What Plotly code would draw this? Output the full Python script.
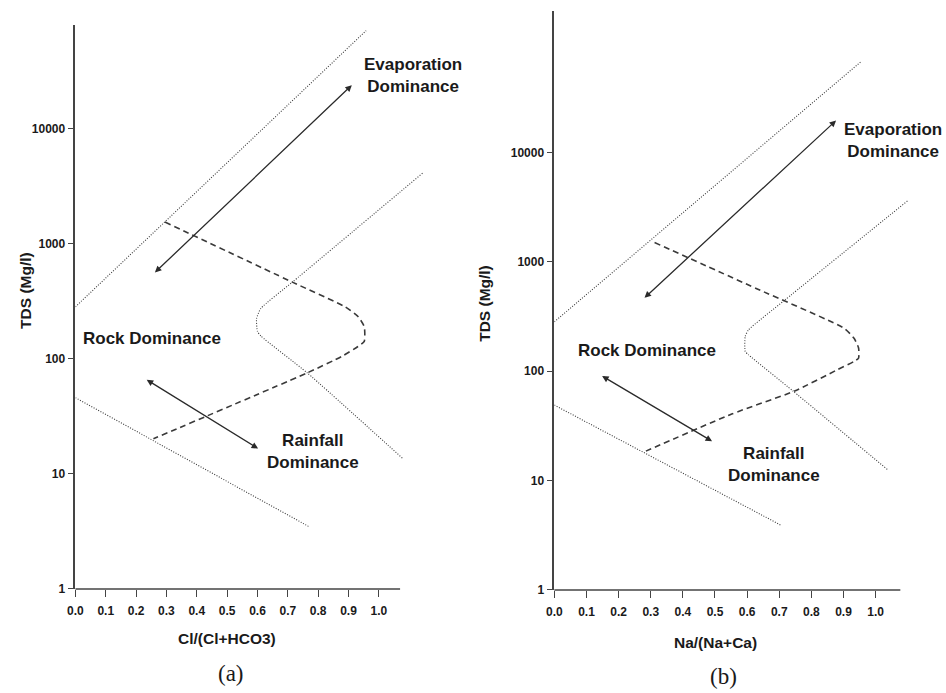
import numpy as np
import plotly.graph_objects as go

# ---------------- data ----------------
# Panel (a): Cl/(Cl+HCO3) vs TDS
a_upper_x = [0.0, 0.958]
a_upper_y = [283, 71100]
a_inner_x = [1.144, 0.715, 0.611, 0.597, 0.600, 0.611, 0.764, 1.079]
a_inner_y = [4100, 464, 274, 224, 173, 158, 75.5, 13.6]
a_lower_x = [0.0, 0.768]
a_lower_y = [46, 3.5]
a_dash_x = [0.295, 0.715, 0.889, 0.932, 0.952, 0.952, 0.931, 0.878, 0.764, 0.257]
a_dash_y = [1545, 464, 283, 232, 190, 142, 128, 105, 75.5, 20.2]
a_evap_arrow = [(0.257, 547), (0.911, 23900)]
a_rain_arrow = [(0.23, 67), (0.602, 16.6)]

# Panel (b): Na/(Na+Ca) vs TDS
b_upper_x = [0.0, 0.953]
b_upper_y = [283, 67000]
b_inner_x = [1.099, 0.717, 0.604, 0.594, 0.594, 0.604, 0.743, 1.040]
b_inner_y = [3600, 446, 238, 207.5, 151.7, 141.6, 65.9, 12.4]
b_lower_x = [0.0, 0.706]
b_lower_y = [49, 3.9]
b_dash_x = [0.312, 0.630, 0.902, 0.933, 0.947, 0.947, 0.933, 0.882, 0.748, 0.552, 0.285]
b_dash_y = [1500, 568, 247, 200, 163, 132, 123, 103.5, 65.9, 40.6, 18.6]
b_evap_arrow = [(0.276, 455), (0.877, 19600)]
b_rain_arrow = [(0.144, 92), (0.491, 22.9)]

x_ticks = [0.0, 0.1, 0.2, 0.3, 0.4, 0.5, 0.6, 0.7, 0.8, 0.9, 1.0]
x_tick_labels = ["0.0", "0.1", "0.2", "0.3", "0.4", "0.5", "0.6", "0.7", "0.8", "0.9", "1.0"]
y_ticks = [1, 10, 100, 1000, 10000]
y_tick_labels = ["1", "10", "100", "1000", "10000"]

x_title_a = "Cl/(Cl+HCO3)"
x_title_b = "Na/(Na+Ca)"
y_title = "TDS (Mg/l)"

# ---------------- layout geometry ----------------
W, H = 946, 693
def px(x):
    return x / W
def py(y):
    return 1 - y / H

LINE = "#3a3a3a"
TXT = "#1a1a1a"
SANS = "Liberation Sans"

# panel geometry: origin pixel, pixels per x unit, pixels per decade, ranges
pa = dict(x0=68, ppu=306, y0=595, ppd=116.25, xr=[0, 1.16], yr=[0, 4.9], xend=1.07)
pb = dict(x0=551, ppu=324, y0=596, ppd=110.5, xr=[0, 1.12], yr=[0, 5.29], xend=1.077)

def domains(p):
    xd = [px(p["x0"]), px(p["x0"] + p["ppu"] * p["xr"][1])]
    yd = [py(p["y0"]), py(p["y0"] - p["ppd"] * p["yr"][1])]
    return xd, yd

fig = go.Figure()

def add_panel(xa, ya, upper, inner, lower, dash):
    dotted = dict(color=LINE, width=1.1, dash="1px,1.6px")
    fig.add_trace(go.Scatter(x=upper[0], y=upper[1], mode="lines", line=dotted,
                             xaxis=xa, yaxis=ya, showlegend=False, hoverinfo="skip"))
    fig.add_trace(go.Scatter(x=inner[0], y=inner[1], mode="lines",
                             line=dict(dotted, shape="spline", smoothing=0.5),
                             xaxis=xa, yaxis=ya, showlegend=False, hoverinfo="skip"))
    fig.add_trace(go.Scatter(x=lower[0], y=lower[1], mode="lines", line=dotted,
                             xaxis=xa, yaxis=ya, showlegend=False, hoverinfo="skip"))
    fig.add_trace(go.Scatter(x=dash[0], y=dash[1], mode="lines",
                             line=dict(color=LINE, width=1.6, dash="6px,4px",
                                       shape="spline", smoothing=0.5),
                             xaxis=xa, yaxis=ya, showlegend=False, hoverinfo="skip"))

add_panel("x", "y", (a_upper_x, a_upper_y), (a_inner_x, a_inner_y),
          (a_lower_x, a_lower_y), (a_dash_x, a_dash_y))
add_panel("x2", "y2", (b_upper_x, b_upper_y), (b_inner_x, b_inner_y),
          (b_lower_x, b_lower_y), (b_dash_x, b_dash_y))

annotations = []

def arrow(xref, yref, arr):
    (tx, ty), (hx, hy) = arr
    annotations.append(dict(
        x=hx, y=np.log10(hy), ax=tx, ay=np.log10(ty), xref=xref, yref=yref,
        axref=xref, ayref=yref, text="", showarrow=True, arrowhead=2,
        startarrowhead=2, arrowside="end+start", arrowsize=1.0, startarrowsize=1.0,
        arrowwidth=1.3, arrowcolor="#2a2a2a", standoff=0, startstandoff=0))

arrow("x", "y", a_evap_arrow)
arrow("x", "y", a_rain_arrow)
arrow("x2", "y2", b_evap_arrow)
arrow("x2", "y2", b_rain_arrow)

def label(text, x, y, size=17, angle=0, family=SANS, bold=True):
    annotations.append(dict(
        text=text, x=px(x), y=py(y), xref="paper", yref="paper",
        showarrow=False, xanchor="center", yanchor="middle", textangle=angle,
        font=dict(family=family, size=size, color=TXT,
                  weight="bold" if bold else "normal")))

# panel (a) labels
label("Evaporation<br>Dominance", 408, 76)
label("Rock Dominance", 145, 342)
label("Rainfall<br>Dominance", 308, 456)
label(x_title_a, 221, 645, size=15.5)
label(y_title, 17, 293, size=15.5, angle=-90)
label("(a)", 225, 680, size=23, family="Liberation Serif", bold=False)
# panel (b) labels
label("Evaporation<br>Dominance", 893, 142)
label("Rock Dominance", 644, 354)
label("Rainfall<br>Dominance", 773, 469)
label(x_title_b, 714, 649, size=15.5)
label(y_title, 481, 306, size=15.5, angle=-90)
label("(b)", 722, 683, size=23, family="Liberation Serif", bold=False)

shapes = []
for p in (pa, pb):
    shapes.append(dict(type="line", xref="paper", yref="paper",
                       x0=px(p["x0"]), x1=px(p["x0"] + p["ppu"] * p["xend"]),
                       y0=py(p["y0"]), y1=py(p["y0"]),
                       line=dict(color="#444444", width=1.6)))

def xaxis_cfg(p):
    xd, _ = domains(p)
    return dict(domain=xd, range=p["xr"], showgrid=False, zeroline=False,
                showline=False, ticks="outside", ticklen=7, tickwidth=1.3,
                tickcolor="#444444", tickvals=x_ticks, ticktext=x_tick_labels,
                tickfont=dict(family=SANS, size=12, color=TXT, weight="bold"),
                ticklabelstandoff=4)

def yaxis_cfg(p, anchor):
    _, yd = domains(p)
    return dict(domain=yd, range=p["yr"], type="log", anchor=anchor,
                showgrid=False, zeroline=False, showline=True,
                linecolor="#444444", linewidth=1.6, ticks="outside", ticklen=6,
                tickwidth=1.3, tickcolor="#444444", tickvals=y_ticks,
                ticktext=y_tick_labels,
                tickfont=dict(family=SANS, size=12, color=TXT, weight="bold"))

fig.update_layout(
    width=W, height=H, margin=dict(l=0, r=0, t=0, b=0),
    paper_bgcolor="white", plot_bgcolor="white",
    xaxis=dict(xaxis_cfg(pa), anchor="y"),
    yaxis=yaxis_cfg(pa, "x"),
    xaxis2=dict(xaxis_cfg(pb), anchor="y2"),
    yaxis2=yaxis_cfg(pb, "x2"),
    annotations=annotations, shapes=shapes, showlegend=False,
)

fig.write_html("out.html")
